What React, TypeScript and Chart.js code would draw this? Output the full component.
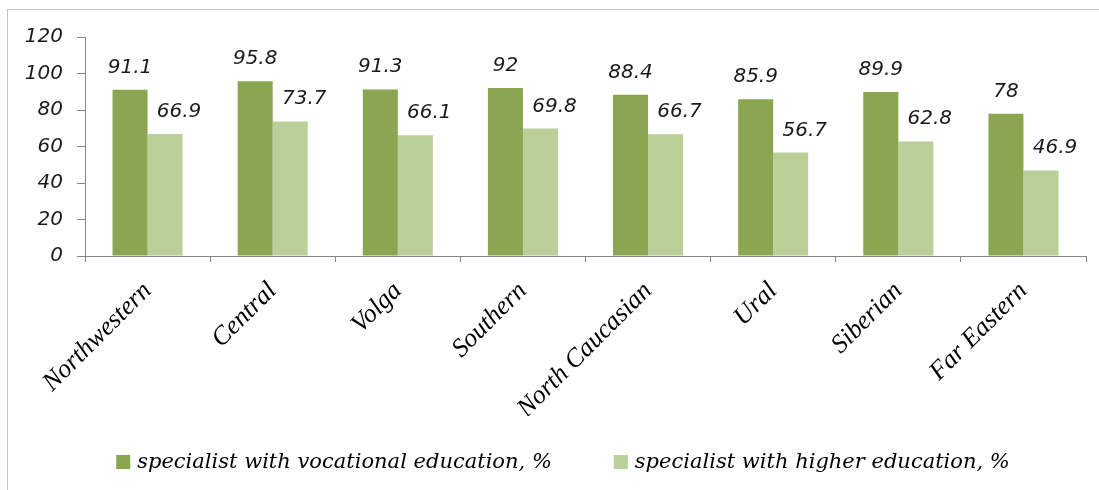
import React, { useEffect, useRef } from "react";
import { Chart, registerables } from "chart.js";

Chart.register(...registerables);

const categories = ["Northwestern", "Central", "Volga", "Southern", "North Caucasian", "Ural", "Siberian", "Far Eastern"];
const vocational = [91.1, 95.8, 91.3, 92, 88.4, 85.9, 89.9, 78];
const higher = [66.9, 73.7, 66.1, 69.8, 66.7, 56.7, 62.8, 46.9];
const seriesNames = ["specialist with vocational education, %", "specialist with higher education, %"];
const yMin = 0;
const yMax = 120;
const yStep = 20;

const DARK = "#8AA650";
const LIGHT = "#BBCF98";
const AXIS = "#868686";

const valueLabels = {
  id: "valueLabels",
  afterDatasetsDraw(chart: any) {
    const ctx = chart.ctx;
    ctx.save();
    ctx.font = 'italic 20px "DejaVu Sans"';
    ctx.fillStyle = "#1a1a1a";
    ctx.textAlign = "center";
    ctx.textBaseline = "alphabetic";
    chart.data.datasets.forEach((ds: any, di: number) => {
      const meta = chart.getDatasetMeta(di);
      meta.data.forEach((el: any, i: number) => {
        const dx = di === 1 ? 14 : 0;
        ctx.fillText(String(ds.data[i]), el.x + dx, el.y - 17);
      });
    });
    ctx.restore();
  },
};

const LEGEND_BOX = 14;
const LEGEND_TEXT_GAP = 7;
const LEGEND_ITEM_GAP = 62;
const LEGEND_CENTER_X = 563;
const LEGEND_Y = 462;

const bottomLegend = {
  id: "bottomLegend",
  afterDraw(chart: any) {
    const ctx = chart.ctx;
    ctx.save();
    ctx.font = 'italic 21px "DejaVu Serif"';
    ctx.textBaseline = "middle";
    ctx.textAlign = "left";
    const items = chart.data.datasets.map((ds: any) => ({
      label: ds.label,
      color: ds.backgroundColor,
      w: ctx.measureText(ds.label).width,
    }));
    const total =
      items.reduce((s: number, it: any) => s + LEGEND_BOX + LEGEND_TEXT_GAP + it.w, 0) +
      LEGEND_ITEM_GAP * (items.length - 1);
    let x = LEGEND_CENTER_X - total / 2;
    items.forEach((it: any) => {
      ctx.fillStyle = it.color;
      ctx.fillRect(x, LEGEND_Y - LEGEND_BOX / 2, LEGEND_BOX, LEGEND_BOX);
      x += LEGEND_BOX + LEGEND_TEXT_GAP;
      ctx.fillStyle = "#000";
      ctx.fillText(it.label, x, LEGEND_Y + 1);
      x += it.w + LEGEND_ITEM_GAP;
    });
    ctx.restore();
  },
};

export default function App() {
  const ref = useRef<HTMLCanvasElement>(null);
  useEffect(() => {
    if (!ref.current) return;
    const chart = new Chart(ref.current, {
      type: "bar",
      data: {
        labels: categories,
        datasets: [
          { label: seriesNames[0], data: vocational, backgroundColor: DARK, borderWidth: 0 },
          { label: seriesNames[1], data: higher, backgroundColor: LIGHT, borderWidth: 0 },
        ],
      },
      options: {
        responsive: false,
        animation: false,
        datasets: { bar: { barPercentage: 1, categoryPercentage: 0.56 } },
        layout: { padding: { left: 8, right: 13, top: 37, bottom: 74 } },
        plugins: {
          legend: { display: false },
          tooltip: { enabled: false },
        },
        scales: {
          x: {
            grid: { offset: true, drawOnChartArea: false, tickLength: 6, color: AXIS },
            border: { color: AXIS },
            ticks: {
              maxRotation: 45,
              minRotation: 45,
              padding: 14,
              color: "#000",
              font: { family: "Liberation Serif", style: "italic", size: 26 },
            },
            afterFit(s: any) {
              s.height = 160;
            },
          },
          y: {
            min: yMin,
            max: yMax,
            grid: { drawOnChartArea: false, tickLength: 8, color: AXIS },
            border: { color: AXIS },
            ticks: {
              stepSize: yStep,
              padding: 14,
              color: "#1a1a1a",
              font: { family: "DejaVu Sans", style: "italic", size: 20 },
            },
            afterFit(s: any) {
              s.width = 77;
            },
          },
        },
      },
      plugins: [valueLabels, bottomLegend],
    });
    return () => chart.destroy();
  }, []);

  return (
    <div style={{ position: "fixed", left: 0, top: 0, width: 1099, height: 490, overflow: "hidden", background: "#fff" }}>
      <div
        style={{
          position: "absolute",
          left: 7,
          top: 9,
          width: 1300,
          height: 700,
          borderTop: "1px solid #c3c3c3",
          borderLeft: "1px solid #c3c3c3",
        }}
      />
      <canvas ref={ref} width={1099} height={490} style={{ position: "absolute", left: 0, top: 0, width: 1099, height: 490 }} />
    </div>
  );
}
